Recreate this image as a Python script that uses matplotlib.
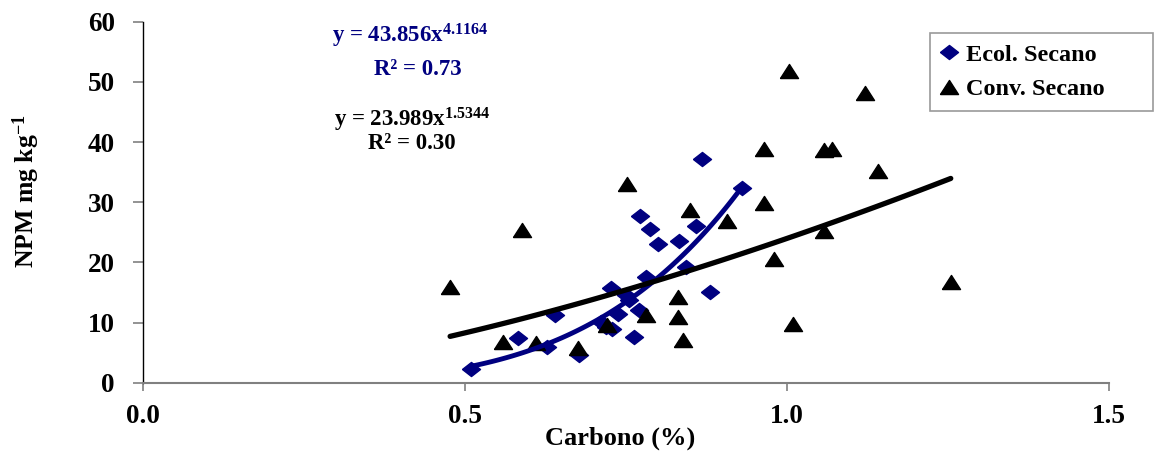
import numpy as np
import matplotlib
matplotlib.use('Agg')
import matplotlib.pyplot as plt

plt.rcParams['font.family'] = 'Liberation Serif'
plt.rcParams['font.weight'] = 'bold'
plt.rcParams['mathtext.fontset'] = 'custom'
plt.rcParams['mathtext.rm'] = 'Liberation Serif:bold'
plt.rcParams['mathtext.it'] = 'Liberation Serif:bold'
plt.rcParams['mathtext.bf'] = 'Liberation Serif:bold'
plt.rcParams['mathtext.default'] = 'rm'

# Ecol. Secano (diamonds)
ecol_c = [0.510, 0.582, 0.628, 0.640, 0.677, 0.711, 0.719, 0.729, 0.727, 0.737,
          0.750, 0.755, 0.763, 0.770, 0.771, 0.781, 0.787, 0.799, 0.833, 0.843,
          0.858, 0.868, 0.881, 0.930]
ecol_npm = [2.2, 7.5, 6.0, 11.2, 4.6, 10.1, 9.3, 9.0, 15.8, 11.5,
            14.6, 13.7, 7.6, 12.1, 27.7, 17.6, 25.5, 23.0, 23.5, 19.3,
            26.0, 37.2, 15.0, 32.3]

# Conv. Secano (triangles)
conv_c = [0.477, 0.559, 0.589, 0.610, 0.676, 0.721, 0.751, 0.781, 0.830, 0.830,
          0.838, 0.850, 0.907, 0.964, 0.964, 0.980, 1.003, 1.009, 1.057, 1.070,
          1.057, 1.121, 1.141, 1.254]
conv_npm = [15.9, 6.8, 25.4, 6.6, 5.7, 9.6, 33.1, 11.2, 14.3, 11.0,
            7.1, 28.7, 26.9, 38.9, 29.8, 20.6, 51.8, 9.75, 38.7, 38.9,
            25.2, 48.2, 35.2, 16.8]

# power trend lines y = a * x^b
ecol_fit = (43.856, 4.1164, 0.73)
conv_fit = (23.989, 1.5344, 0.30)

navy = '#000080'
diamond = [(-1, 0), (0, 0.78), (1, 0), (0, -0.78), (-1, 0)]
tri = [(-1, -0.78), (1, -0.78), (0, 0.78), (-1, -0.78)]

W, H = 1155, 451
fig = plt.figure(figsize=(W / 100, H / 100), dpi=100)
ax = fig.add_axes([0.1236, 0.1514, 0.8368, 0.8005])

xs = np.linspace(min(ecol_c), max(ecol_c), 100)
ax.plot(xs, ecol_fit[0] * xs ** ecol_fit[1], color=navy, lw=3.5,
        solid_capstyle='round', zorder=3)
xs = np.linspace(min(conv_c), max(conv_c), 100)
ax.plot(xs, conv_fit[0] * xs ** conv_fit[1], color='black', lw=3.8,
        solid_capstyle='round', zorder=3)

ax.plot(ecol_c, ecol_npm, ls='none', marker=diamond, ms=13, color=navy,
        mec=navy, label='Ecol. Secano', zorder=2)
ax.plot(conv_c, conv_npm, ls='none', marker=tri, ms=13, color='black',
        label='Conv. Secano', zorder=2)

ax.set_xlim(0, 1.5)
ax.set_ylim(0, 60)
ax.set_xticks([0, 0.5, 1.0, 1.5])
ax.set_xticklabels(['0.0', '0.5', '1.0', '1.5'])
ax.set_yticks(range(0, 61, 10))

for s in ['top', 'right']:
    ax.spines[s].set_visible(False)
ax.spines['left'].set_color('black')
ax.spines['left'].set_linewidth(1.0)
ax.spines['bottom'].set_color('#808080')
ax.spines['bottom'].set_linewidth(1.5)
ax.tick_params(axis='y', length=7, width=1.2, color='#808080', pad=13,
               labelsize=19.5)
ax.tick_params(axis='x', length=5.5, width=1.2, color='#808080', pad=10,
               labelsize=19.5)

ax.set_xlabel('Carbono (%)', fontsize=19, fontweight='bold')
ax.xaxis.set_label_coords((620 - 142.7) / 966.6, -0.122)
ax.set_ylabel('NPM mg kg$^{-1}$', fontsize=18.5, fontweight='bold')
ax.yaxis.set_label_coords(-0.104, 0.531)

# equation labels, positioned in pixels from the top-left corner
def px_text(x, y, s, color):
    fig.text(x / W, 1 - y / H, s, color=color, fontsize=16.5,
             ha='center', va='baseline')

px_text(410, 42, 'y = 43.856x$^{4.1164}$', navy)
px_text(418, 75, 'R² = 0.73', navy)
px_text(412, 127, 'y = 23.989x$^{1.5344}$', 'black')
px_text(412, 149, 'R² = 0.30', 'black')

x0 = (930 - 142.7) / 966.6
y1 = (382.7 - 33) / 361.0
y0 = (382.7 - 107) / 361.0
leg = ax.legend(loc='upper left', bbox_to_anchor=(x0, y0, (1153 - 930) / 966.6, y1 - y0),
                mode='expand', frameon=True, fancybox=False, fontsize=17.5,
                handlelength=0.7, handletextpad=0.35, borderpad=0.45,
                labelspacing=0.5, borderaxespad=0)
leg.get_frame().set_edgecolor('#808080')
leg.get_frame().set_linewidth(1.2)

fig.savefig('out.png', dpi=100)
